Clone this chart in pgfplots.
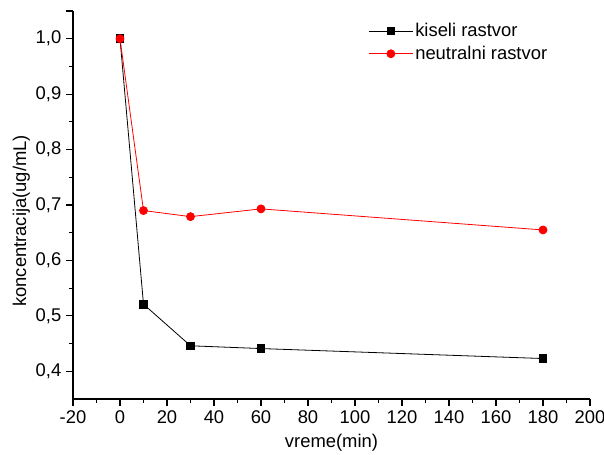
\documentclass[border=0pt]{standalone}
\usepackage{fontspec}
\setmainfont{Liberation Sans}
\usepackage{pgfplots}
\pgfplotsset{compat=1.18}
\begin{document}
\begin{tikzpicture}
\fontsize{13.8}{16}\selectfont
\begin{axis}[
  scale only axis,
  width=387.75pt, height=291pt,
  xmin=-20, xmax=200, ymin=0.35, ymax=1.05,
  axis lines=left,
  axis line style={-, line width=0.9pt},
  xtick={-20,0,...,200},
  ytick={0.4,0.5,...,1.0},
  minor x tick num=1,
  minor y tick num=1,
  extra y ticks={1.05}, extra y tick labels={},
  tick align=outside,
  major tick length=5pt, minor tick length=3pt,
  tick style={line width=0.9pt, black},
  /pgf/number format/assume math mode=true,
  yticklabel style={xshift=1pt, /pgf/number format/fixed, /pgf/number format/fixed zerofill,
    /pgf/number format/precision=1, /pgf/number format/use comma},
  ticklabel style={font=\fontsize{13.8}{16}\selectfont},
  xticklabel style={yshift=1pt},
  xlabel={vreme(min)}, ylabel={koncentracija(ug/mL)},
  label style={font=\fontsize{13.8}{16}\selectfont},
  ylabel style={at={(axis description cs:-0.1,0.459)}, anchor=center},
  xlabel style={at={(axis description cs:0.5,-0.114)}, anchor=center},
  legend style={draw=none, fill=none, at={(0.571,0.975)}, anchor=north west,
    font=\fontsize{13.8}{16}\selectfont, row sep=2pt, inner sep=0pt,
    nodes={inner sep=1.5pt}},
  legend cell align=left,
  legend image code/.code={
    \draw[mark repeat=2, mark phase=2] plot coordinates {(0pt,0pt) (16.5pt,0pt) (33pt,0pt)};},
]
\addplot[black, line width=0.6pt, mark=square*, mark size=2.9pt, mark options={solid, fill=black}]
  coordinates {(0,1.0) (10,0.521) (30,0.446) (60,0.441) (180,0.423)};
\addplot[red, line width=0.6pt, mark=*, mark size=3pt, mark options={solid, fill=red}]
  coordinates {(0,1.0) (10,0.690) (30,0.679) (60,0.693) (180,0.655)};
\legend{kiseli rastvor, neutralni rastvor}
\end{axis}
\pgfresetboundingbox
\useasboundingbox (-54.75pt,-41.25pt) rectangle (398.25pt,299.25pt);
\end{tikzpicture}
\end{document}
